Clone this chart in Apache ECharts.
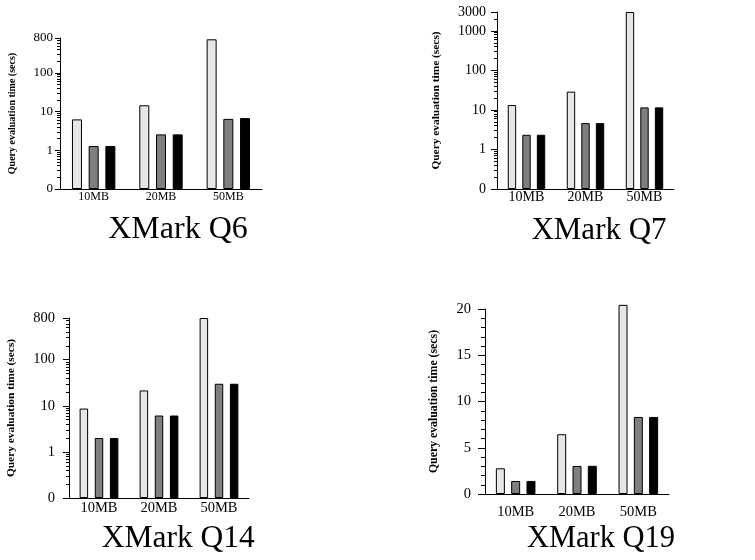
<!DOCTYPE html>
<html>
<head>
<meta charset="utf-8">
<script src="https://cdn.jsdelivr.net/npm/echarts@6/dist/echarts.min.js"></script>
<style>
html,body{margin:0;padding:0;background:#fff;}
#chart{width:755px;height:560px;}
</style>
</head>
<body>
<div id="chart"></div>
<script>
// ---- data ----
const categories = ['10MB', '20MB', '50MB'];
const seriesNames = ['tidy', 'sloppy', 'duptidy'];

const q6Tidy = [6.3, 14.6, 740];
const q6Sloppy = [1.29, 2.58, 6.5];
const q6Duptidy = [1.29, 2.58, 6.8];

const q7Tidy = [13.3, 29, 3000];
const q7Sloppy = [2.35, 4.65, 11.6];
const q7Duptidy = [2.35, 4.65, 11.6];

const q14Tidy = [8.7, 21.5, 800];
const q14Sloppy = [2.0, 6.15, 30];
const q14Duptidy = [2.0, 6.15, 30];

const q19Tidy = [2.78, 6.46, 20.45];
const q19Sloppy = [1.41, 3.03, 8.33];
const q19Duptidy = [1.41, 3.05, 8.33];

const q6TickValues = [0.1, 1, 10, 100, 800];
const q6TickLabels = ['0', '1', '10', '100', '800'];
const q7TickValues = [0.1, 1, 10, 100, 1000, 3000];
const q7TickLabels = ['0', '1', '10', '100', '1000', '3000'];
const q14TickValues = [0.1, 1, 10, 100, 800];
const q14TickLabels = ['0', '1', '10', '100', '800'];
const q19TickValues = [0, 5, 10, 15, 20];

const titles = ['XMark Q6', 'XMark Q7', 'XMark Q14', 'XMark Q19'];
const yName = 'Query evaluation time (secs)';

// ---- layout / style ----
const FONT = 'Liberation Serif';
const colors = ['#e6e6e6', '#7f7f7f', '#000000'];

const panels = [
  { title: titles[0], data: [q6Tidy, q6Sloppy, q6Duptidy], log: true, ticks: q6TickValues, labels: q6TickLabels,
    grid: { left: 60, top: 38, width: 202, height: 151 },
    barWidth: 10, barGap: '67%', tickFont: 12, yTickFont: 13, catMargin: 2, labelMargin: 7, majorLen: 5, minorLen: 3,
    nameGap: 43, nameFont: 10,
    legend: { left: 278, top: 92.5, font: 12, itemW: 12, itemH: 8, gap: 2.7 },
    titleX: 178, titleY: 214, titleFont: 32 },
  { title: titles[1], data: [q7Tidy, q7Sloppy, q7Duptidy], log: true, ticks: q7TickValues, labels: q7TickLabels,
    grid: { left: 497, top: 12, width: 177, height: 177 },
    barWidth: 8.4, barGap: '73%', tickFont: 14, yTickFont: 14, catMargin: 1, labelMargin: 11, majorLen: 6, minorLen: 3,
    nameGap: 55, nameFont: 11.4,
    legend: { left: 693.3, top: 75.7, font: 14, itemW: 12, itemH: 9, gap: 3.3 },
    titleX: 599, titleY: 215.5, titleFont: 31 },
  { title: titles[2], data: [q14Tidy, q14Sloppy, q14Duptidy], log: true, ticks: q14TickValues, labels: q14TickLabels,
    grid: { left: 69, top: 318, width: 180, height: 180 },
    barWidth: 8.5, barGap: '78%', tickFont: 14.5, yTickFont: 14.5, catMargin: 3, labelMargin: 14, majorLen: 6, minorLen: 3,
    nameGap: 52.6, nameFont: 11.4,
    legend: { left: 269.3, top: 382.5, font: 14.5, itemW: 11, itemH: 9, gap: 3.3 },
    titleX: 178.3, titleY: 523, titleFont: 31.5 },
  { title: titles[3], data: [q19Tidy, q19Sloppy, q19Duptidy], log: false, ticks: q19TickValues, labels: null,
    grid: { left: 485, top: 309, width: 184, height: 185 },
    barWidth: 9, barGap: '70%', tickFont: 14.5, yTickFont: 14.5, catMargin: 11, labelMargin: 14, majorLen: 7, minorLen: 4,
    nameGap: 45, nameFont: 11.8,
    legend: { left: 689.3, top: 375.8, font: 15, itemW: 11.5, itemH: 9, gap: 3.7 },
    titleX: 601, titleY: 523, titleFont: 30.5 }
];

function minorLogTicks(min, max) {
  const out = [];
  for (let d = min; d < max; d *= 10) {
    for (let k = 2; k <= 9; k++) {
      const v = k * d;
      if (v < max) out.push(v);
    }
  }
  return out;
}

const option = {
  animation: false,
  title: [], grid: [], xAxis: [], yAxis: [], series: []
};

panels.forEach((p, i) => {
  option.title.push({
    text: p.title, left: p.titleX, top: p.titleY, textAlign: 'center', padding: 0,
    textStyle: { fontFamily: FONT, fontWeight: 'normal', fontSize: p.titleFont, color: '#000' }
  });
  option.grid.push(Object.assign({ containLabel: false }, p.grid));
  option.xAxis.push({
    type: 'category', gridIndex: i, data: categories,
    axisLine: { show: true, lineStyle: { color: '#000', width: 1 } },
    axisTick: { show: false },
    axisLabel: { fontFamily: FONT, fontSize: p.tickFont, color: '#000', margin: p.catMargin },
    splitLine: { show: false }
  });
  const nameCfg = {
    name: yName, nameLocation: 'middle', nameGap: p.nameGap, nameRotate: 90,
    nameTextStyle: { fontFamily: FONT, fontWeight: 'bold', fontSize: p.nameFont, color: '#000' }
  };
  const yIdx = option.yAxis.length;
  if (p.log) {
    const min = p.ticks[0], max = p.ticks[p.ticks.length - 1];
    const ticks = p.ticks, labels = p.labels;
    option.yAxis.push(Object.assign({
      type: 'log', logBase: 10, gridIndex: i, min: min, max: max, startValue: min,
      axisLine: { show: true, lineStyle: { color: '#000', width: 1 } },
      axisTick: { show: true, length: p.majorLen, customValues: ticks, lineStyle: { color: '#000', width: 1 } },
      axisLabel: {
        customValues: ticks, fontFamily: FONT, fontSize: p.yTickFont, color: '#000', margin: p.labelMargin,
        formatter: function (v) {
          const idx = ticks.findIndex(t => Math.abs(Math.log10(t) - Math.log10(v)) < 1e-6);
          return idx >= 0 ? labels[idx] : '';
        }
      },
      splitLine: { show: false }
    }, nameCfg));
    option.yAxis.push({
      type: 'log', logBase: 10, gridIndex: i, min: min, max: max, position: 'left',
      axisLine: { show: false },
      axisTick: { show: true, length: p.minorLen, customValues: minorLogTicks(min, max), lineStyle: { color: '#000', width: 1 } },
      axisLabel: { show: false },
      splitLine: { show: false }
    });
  } else {
    option.yAxis.push(Object.assign({
      type: 'value', gridIndex: i, min: 0, max: 20, interval: 5,
      axisLine: { show: true, lineStyle: { color: '#000', width: 1 } },
      axisTick: { show: true, length: p.majorLen, lineStyle: { color: '#000', width: 1 } },
      minorTick: { show: true, splitNumber: 5, length: p.minorLen, lineStyle: { color: '#000', width: 1 } },
      axisLabel: { fontFamily: FONT, fontSize: p.yTickFont, color: '#000', margin: p.labelMargin },
      splitLine: { show: false }, minorSplitLine: { show: false }
    }, nameCfg));
  }
  seriesNames.forEach((n, s) => {
    option.series.push({
      type: 'bar', name: n, xAxisIndex: i, yAxisIndex: yIdx, data: p.data[s],
      barWidth: p.barWidth, barGap: p.barGap, clip: false,
      itemStyle: { color: colors[s], borderColor: '#000', borderWidth: 1 }
    });
  });
});

const chart = echarts.init(document.getElementById('chart'));
chart.setOption(option);
</script>
</body>
</html>
